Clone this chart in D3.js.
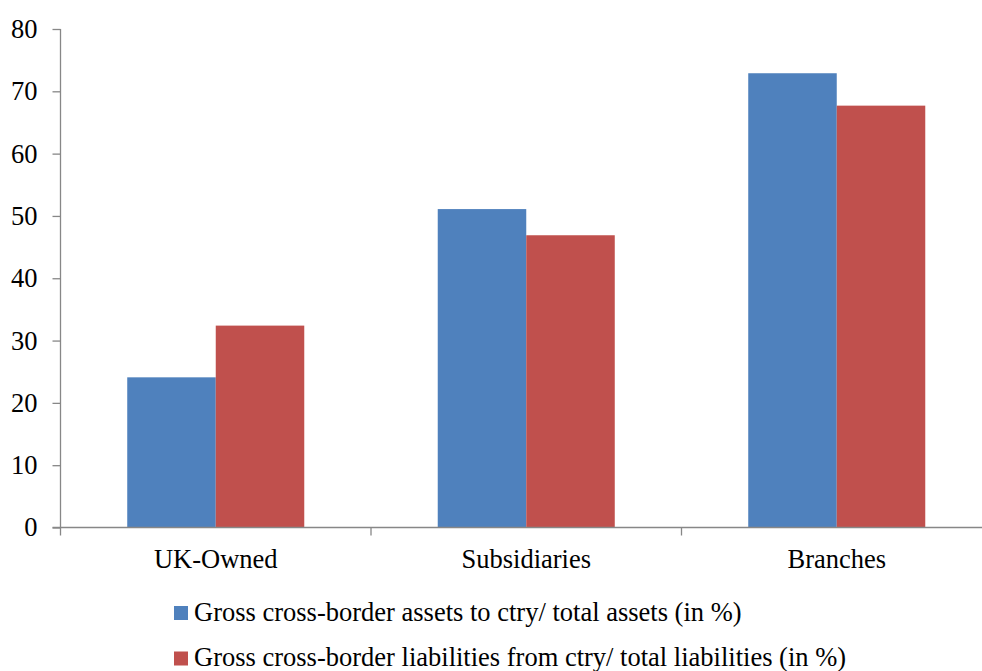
<!DOCTYPE html>
<html><head><meta charset="utf-8">
<script src="https://cdn.jsdelivr.net/npm/d3@7"></script>
<style>body{margin:0;background:#fff}svg{display:block}text{font-family:"Liberation Serif","Times New Roman",serif;fill:#000}</style>
</head><body><svg id="c" width="982" height="671"></svg>
<script>
const categories = ["UK-Owned", "Subsidiaries", "Branches"];
const seriesNames = ["Gross cross-border assets to ctry/ total assets (in %)", "Gross cross-border liabilities from ctry/ total liabilities (in %)"];
const assets = [24.1, 51.1, 72.9];
const liabilities = [32.4, 46.9, 67.7];
const yTicks = [0, 10, 20, 30, 40, 50, 60, 70, 80];
const colors = ["#4F81BD", "#C0504D"];

(function () {
const svg = d3.select("#c");
const FS = 26.5;
const mLeft = 60.5, mRight = 992, mTop = 29, mBottom = 527.5;
const x = d3.scaleBand().domain(categories).range([mLeft, mRight]).paddingInner(0).paddingOuter(0);
const x1 = d3.scaleBand().domain([0, 1]).range([0, x.bandwidth()]).paddingOuter(0.754).paddingInner(0);
const y = d3.scaleLinear().domain([0, 80]).range([mBottom, mTop]);
const series = [assets, liabilities];

categories.forEach((c, i) => {
  series.forEach((s, j) => {
    svg.append("rect")
      .attr("x", x(c) + x1(j)).attr("width", x1.bandwidth())
      .attr("y", y(s[i])).attr("height", y(0) - y(s[i]))
      .attr("fill", colors[j]);
  });
});

const ya = svg.append("g").attr("transform", `translate(${mLeft},0)`)
  .call(d3.axisLeft(y).tickValues(yTicks).tickSize(8).tickPadding(15).tickFormat(d3.format("d")));
ya.selectAll("path,line").attr("stroke", "#878787").attr("stroke-width", 1.3);
ya.select("path").attr("d", `M0,${mTop}V${mBottom}`);
ya.selectAll("text").attr("font-size", FS).style("font-family", '"Liberation Serif",serif');

const xa = svg.append("g").attr("transform", `translate(0,${mBottom})`)
  .call(d3.axisBottom(x).tickSize(0).tickPadding(22));
xa.select("path").attr("stroke", "#878787").attr("stroke-width", 1.3).attr("d", `M${mLeft - 8},0H${mRight}`);
xa.selectAll("text").attr("font-size", FS).style("font-family", '"Liberation Serif",serif');
const bounds = x.domain().map(d => x(d)).concat([mRight]);
svg.append("g").selectAll("line").data(bounds).join("line")
  .attr("x1", d => d).attr("x2", d => d).attr("y1", mBottom).attr("y2", mBottom + 8)
  .attr("stroke", "#878787").attr("stroke-width", 1.3);

const leg = svg.append("g");
seriesNames.forEach((n, j) => {
  const ly = 606 + j * 45.5;
  leg.append("rect").attr("x", 174).attr("y", ly).attr("width", 14).attr("height", 14).attr("fill", colors[j]);
  leg.append("text").attr("x", 194).attr("y", ly + 14.5).attr("font-size", FS).text(n);
});
})();
</script></body></html>
